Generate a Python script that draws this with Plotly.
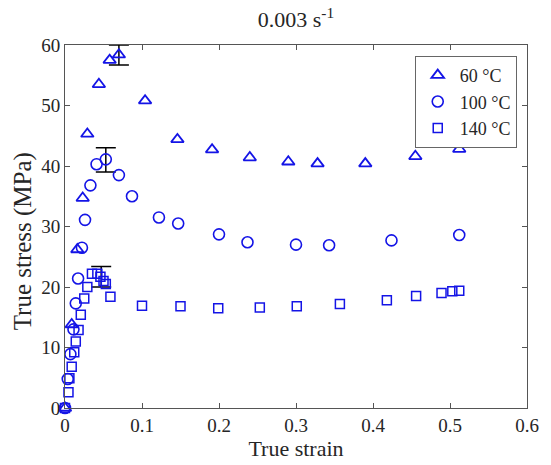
import plotly.graph_objects as go

# 60 °C (triangles)
strain_60 = [0.0, 0.0087, 0.016, 0.023, 0.029, 0.044, 0.058, 0.070, 0.104, 0.146,
             0.191, 0.240, 0.290, 0.328, 0.390, 0.455, 0.512]
stress_60 = [0.0, 13.8, 26.2, 34.7, 45.3, 53.5, 57.5, 58.4, 50.8, 44.4,
             42.7, 41.4, 40.7, 40.4, 40.4, 41.6, 42.8]

# 100 °C (circles)
strain_100 = [0.0, 0.0036, 0.007, 0.011, 0.014, 0.017, 0.022, 0.026, 0.033, 0.041,
              0.053, 0.070, 0.087, 0.122, 0.147, 0.200, 0.237, 0.300, 0.343, 0.424, 0.512]
stress_100 = [0.0, 4.8, 8.9, 13.0, 17.3, 21.4, 26.5, 31.1, 36.8, 40.3,
              41.1, 38.5, 35.0, 31.5, 30.5, 28.7, 27.4, 27.0, 26.9, 27.7, 28.6]

# 140 °C (squares)
strain_140 = [0.0, 0.0045, 0.0057, 0.0087, 0.012, 0.014, 0.0176, 0.0205, 0.025, 0.029,
              0.035, 0.042, 0.046, 0.050, 0.053, 0.059, 0.100, 0.150, 0.199, 0.253,
              0.301, 0.357, 0.418, 0.456, 0.489, 0.503, 0.512]
stress_140 = [0.0, 2.6, 4.9, 6.8, 9.2, 11.0, 12.9, 15.4, 18.1, 20.0,
              22.2, 22.2, 21.7, 21.0, 20.5, 18.4, 16.9, 16.8, 16.5, 16.6,
              16.8, 17.2, 17.8, 18.5, 19.0, 19.3, 19.4]

# error bars at peak stress
err_strain = [0.070, 0.053, 0.047]
err_stress = [58.35, 41.0, 21.7]
err_size = [1.65, 2.0, 1.7]

x_ticks = [0, 0.1, 0.2, 0.3, 0.4, 0.5, 0.6]
x_ticklabels = ["0", "0.1", "0.2", "0.3", "0.4", "0.5", "0.6"]
y_ticks = [0, 10, 20, 30, 40, 50, 60]

BLUE = "#1414e6"
FONT = "Liberation Serif"
TXT = "#262626"

fig = go.Figure()

fig.add_trace(go.Scatter(
    x=err_strain, y=err_stress, mode="markers", showlegend=False,
    marker=dict(size=1, color="rgba(0,0,0,0)"),
    error_y=dict(type="data", array=err_size, visible=True, color="black",
                 thickness=1.5, width=10),
    cliponaxis=False, hoverinfo="skip"))

fig.add_trace(go.Scatter(
    x=strain_60, y=stress_60, mode="markers", name="60 °C",
    marker=dict(symbol="triangle-up-open", size=11, color=BLUE, line=dict(width=1.8, color=BLUE)),
    cliponaxis=False))
fig.add_trace(go.Scatter(
    x=strain_100, y=stress_100, mode="markers", name="100 °C",
    marker=dict(symbol="circle-open", size=11, color=BLUE, line=dict(width=1.6, color=BLUE)),
    cliponaxis=False))
fig.add_trace(go.Scatter(
    x=strain_140, y=stress_140, mode="markers", name="140 °C",
    marker=dict(symbol="square-open", size=9, color=BLUE, line=dict(width=1.5, color=BLUE)),
    cliponaxis=False))

axis_common = dict(showgrid=False, zeroline=False, showline=True, mirror="ticks",
                   linecolor="#555555", linewidth=1, ticks="inside", ticklen=5,
                   tickcolor="#555555", tickfont=dict(family=FONT, size=19, color=TXT))

fig.update_layout(
    width=551, height=465,
    margin=dict(l=65, r=13, t=45, b=56),
    paper_bgcolor="white", plot_bgcolor="white",
    title=dict(text="0.003 s<sup>-1</sup>", xref="paper", x=0.5, xanchor="center",
               yref="paper", y=1, yanchor="bottom", pad=dict(b=18),
               font=dict(family=FONT, size=22, color=TXT)),
    xaxis=dict(range=[0, 0.6], tickvals=x_ticks, ticktext=x_ticklabels,
               title=dict(text="True strain", font=dict(family=FONT, size=22, color=TXT), standoff=2),
               **axis_common),
    yaxis=dict(range=[0, 60], tickvals=y_ticks, **axis_common),
    legend=dict(x=0.757, y=0.970, xanchor="left", yanchor="top",
                bgcolor="white", bordercolor="#666666", borderwidth=1,
                font=dict(family=FONT, size=18, color=TXT),
                tracegroupgap=0, itemwidth=34),
    annotations=[dict(text="True stress (MPa)", textangle=-90, xref="paper", yref="paper",
                      x=-0.091, y=0.459, xanchor="center", yanchor="middle", showarrow=False,
                      font=dict(family=FONT, size=25, color=TXT))],
)

fig.write_html("out.html")
